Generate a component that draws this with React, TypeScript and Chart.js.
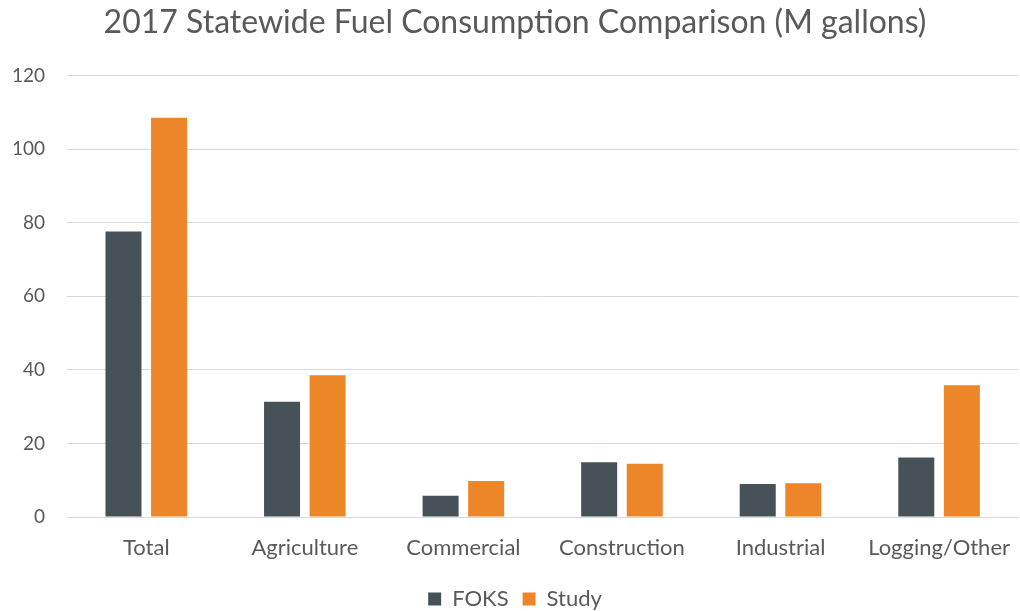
import React, { useEffect, useRef } from "react";
import { Chart, registerables } from "chart.js";

Chart.register(...registerables);

const categories = ["Total", "Agriculture", "Commercial", "Construction", "Industrial", "Logging/Other"];
const foksValues = [77.6, 31.3, 5.8, 14.9, 9.0, 16.2];
const studyValues = [108.5, 38.5, 9.8, 14.5, 9.2, 35.8];
const seriesNames = ["FOKS", "Study"];
const titleText = "2017 Statewide Fuel Consumption Comparison (M gallons)";

const FONT = "Lato, 'Open Sans', sans-serif";
const TEXT = "#595959";

export default function App() {
  const ref = useRef<HTMLCanvasElement | null>(null);

  useEffect(() => {
    document.body.style.margin = "0";
    if (!ref.current) return;
    const chart = new Chart(ref.current, {
      type: "bar",
      data: {
        labels: categories,
        datasets: [
          {
            label: seriesNames[0],
            data: foksValues,
            backgroundColor: "#475258",
            borderWidth: 0,
            categoryPercentage: 0.575,
            barPercentage: 0.79,
          },
          {
            label: seriesNames[1],
            data: studyValues,
            backgroundColor: "#ED8628",
            borderWidth: 0,
            categoryPercentage: 0.575,
            barPercentage: 0.79,
          },
        ],
      },
      options: {
        animation: false,
        responsive: false,
        maintainAspectRatio: false,
        layout: { padding: { left: 10, right: 0, top: 3, bottom: -9 } },
        plugins: {
          title: {
            display: true,
            text: titleText,
            color: TEXT,
            font: { family: FONT, size: 32, weight: "normal" },
            padding: { top: 0, bottom: 34 },
          },
          legend: {
            display: true,
            position: "bottom",
            labels: {
              color: TEXT,
              font: { family: FONT, size: 22 },
              boxWidth: 13,
              boxHeight: 13,
              padding: 14,
            },
          },
          tooltip: { enabled: false },
        },
        scales: {
          x: {
            grid: { display: false },
            border: { display: true, color: "#d9d9d9", width: 1 },
            ticks: {
              color: TEXT,
              font: { family: FONT, size: 22 },
              padding: 10,
              maxRotation: 0,
              autoSkip: false,
            },
            afterFit: (scale: any) => {
              scale.height = 57;
            },
          },
          y: {
            min: 0,
            max: 120,
            grid: { color: "#d9d9d9", lineWidth: 1, drawTicks: false },
            border: { display: false },
            ticks: {
              stepSize: 20,
              color: TEXT,
              font: { family: FONT, size: 19 },
              padding: 22,
            },
            afterFit: (scale: any) => {
              scale.width = 57;
            },
          },
        },
      },
    });
    return () => chart.destroy();
  }, []);

  return (
    <div style={{ width: 1020, height: 611, background: "#fff" }}>
      <canvas ref={ref} width={1020} height={611} style={{ display: "block" }} />
    </div>
  );
}
